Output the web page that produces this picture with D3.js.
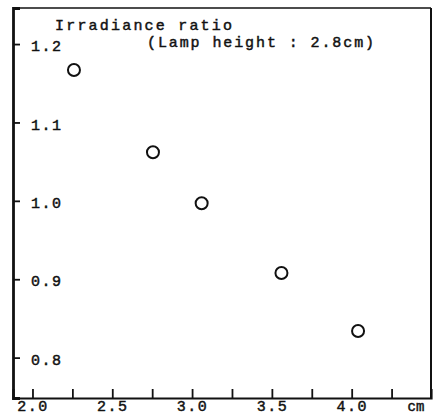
<!DOCTYPE html>
<html>
<head>
<meta charset="utf-8">
<script src="https://cdn.jsdelivr.net/npm/d3@7"></script>
<style>
  body { margin: 0; background: #fff; }
  text { font-family: "Liberation Mono", "DejaVu Sans Mono", monospace; fill: #111; stroke: #111; stroke-width: 0.45px; }
</style>
</head>
<body>
<div id="chart"></div>
<script>
// data
const distance = [2.26, 2.755, 3.06, 3.56, 4.04];   // cm
const ratio    = [1.167, 1.062, 0.997, 0.908, 0.834];

const xTicks = [2.0, 2.25, 2.5, 2.75, 3.0, 3.25, 3.5, 3.75, 4.0, 4.25];
const xTickLabels = { 2.0: '2.0', 2.5: '2.5', 3.0: '3.0', 3.5: '3.5', 4.0: '4.0' };
const yTicks = [0.8, 0.9, 1.0, 1.1, 1.2];

const W = 441, H = 420;
const mLeft = 13, mRight = 431, mTop = 8, mBottom = 398;

const svg = d3.select('#chart').append('svg')
  .attr('width', W).attr('height', H);

const x = d3.scaleLinear().domain([1.878, 4.497]).range([mLeft, mRight]);
const y = d3.scaleLinear().domain([0.7485, 1.246]).range([mBottom, mTop]);

// frame
svg.append('line').attr('x1', mLeft).attr('x2', mRight).attr('y1', mTop).attr('y2', mTop)
  .attr('stroke', '#111').attr('stroke-width', 1.5);
svg.append('line').attr('x1', mRight).attr('x2', mRight).attr('y1', mTop).attr('y2', mBottom)
  .attr('stroke', '#111').attr('stroke-width', 2);

// x axis: ticks point up, labels only on half units
const xAxis = d3.axisBottom(x).tickValues(xTicks).tickSize(-9).tickPadding(2)
  .tickFormat(d => xTickLabels[d] || '');
const gx = svg.append('g').attr('transform', `translate(0,${mBottom})`).call(xAxis);
gx.select('.domain').attr('stroke', '#111').attr('stroke-width', 2.2);
gx.selectAll('.tick line').attr('stroke', '#111').attr('stroke-width', 1.8);
gx.selectAll('.tick text').attr('font-size', 15).attr('letter-spacing', 1.5)
  .attr('font-family', '"Liberation Mono", monospace').attr('fill', '#111');

// y axis: ticks point right, labels inside the frame
const yAxis = d3.axisLeft(y).tickValues(yTicks).tickSize(-7).tickPadding(-18)
  .tickFormat(d3.format('.1f'));
const gy = svg.append('g').attr('transform', `translate(${mLeft},0)`).call(yAxis);
gy.select('.domain').attr('stroke', '#111').attr('stroke-width', 2.8);
gy.selectAll('.tick line').attr('stroke', '#111').attr('stroke-width', 1.8);
gy.selectAll('.tick text').attr('text-anchor', 'start').attr('dy', '0.45em')
  .attr('font-size', 15).attr('letter-spacing', 1.5)
  .attr('font-family', '"Liberation Mono", monospace').attr('fill', '#111');

// unit
svg.append('text').attr('x', 416).attr('y', 411).attr('text-anchor', 'middle')
  .attr('font-size', 14).text('cm');

// titles
svg.append('text').attr('x', 55).attr('y', 30)
  .attr('font-size', 15).attr('letter-spacing', 2.2).text('Irradiance ratio');
svg.append('text').attr('x', 147).attr('y', 47)
  .attr('font-size', 15).attr('letter-spacing', 1.9).text('(Lamp height : 2.8cm)');

// points
svg.append('g').selectAll('circle')
  .data(distance.map((d, i) => [d, ratio[i]]))
  .join('circle')
  .attr('cx', d => x(d[0]))
  .attr('cy', d => y(d[1]))
  .attr('r', 6)
  .attr('fill', 'none')
  .attr('stroke', '#111')
  .attr('stroke-width', 2);
</script>
</body>
</html>
